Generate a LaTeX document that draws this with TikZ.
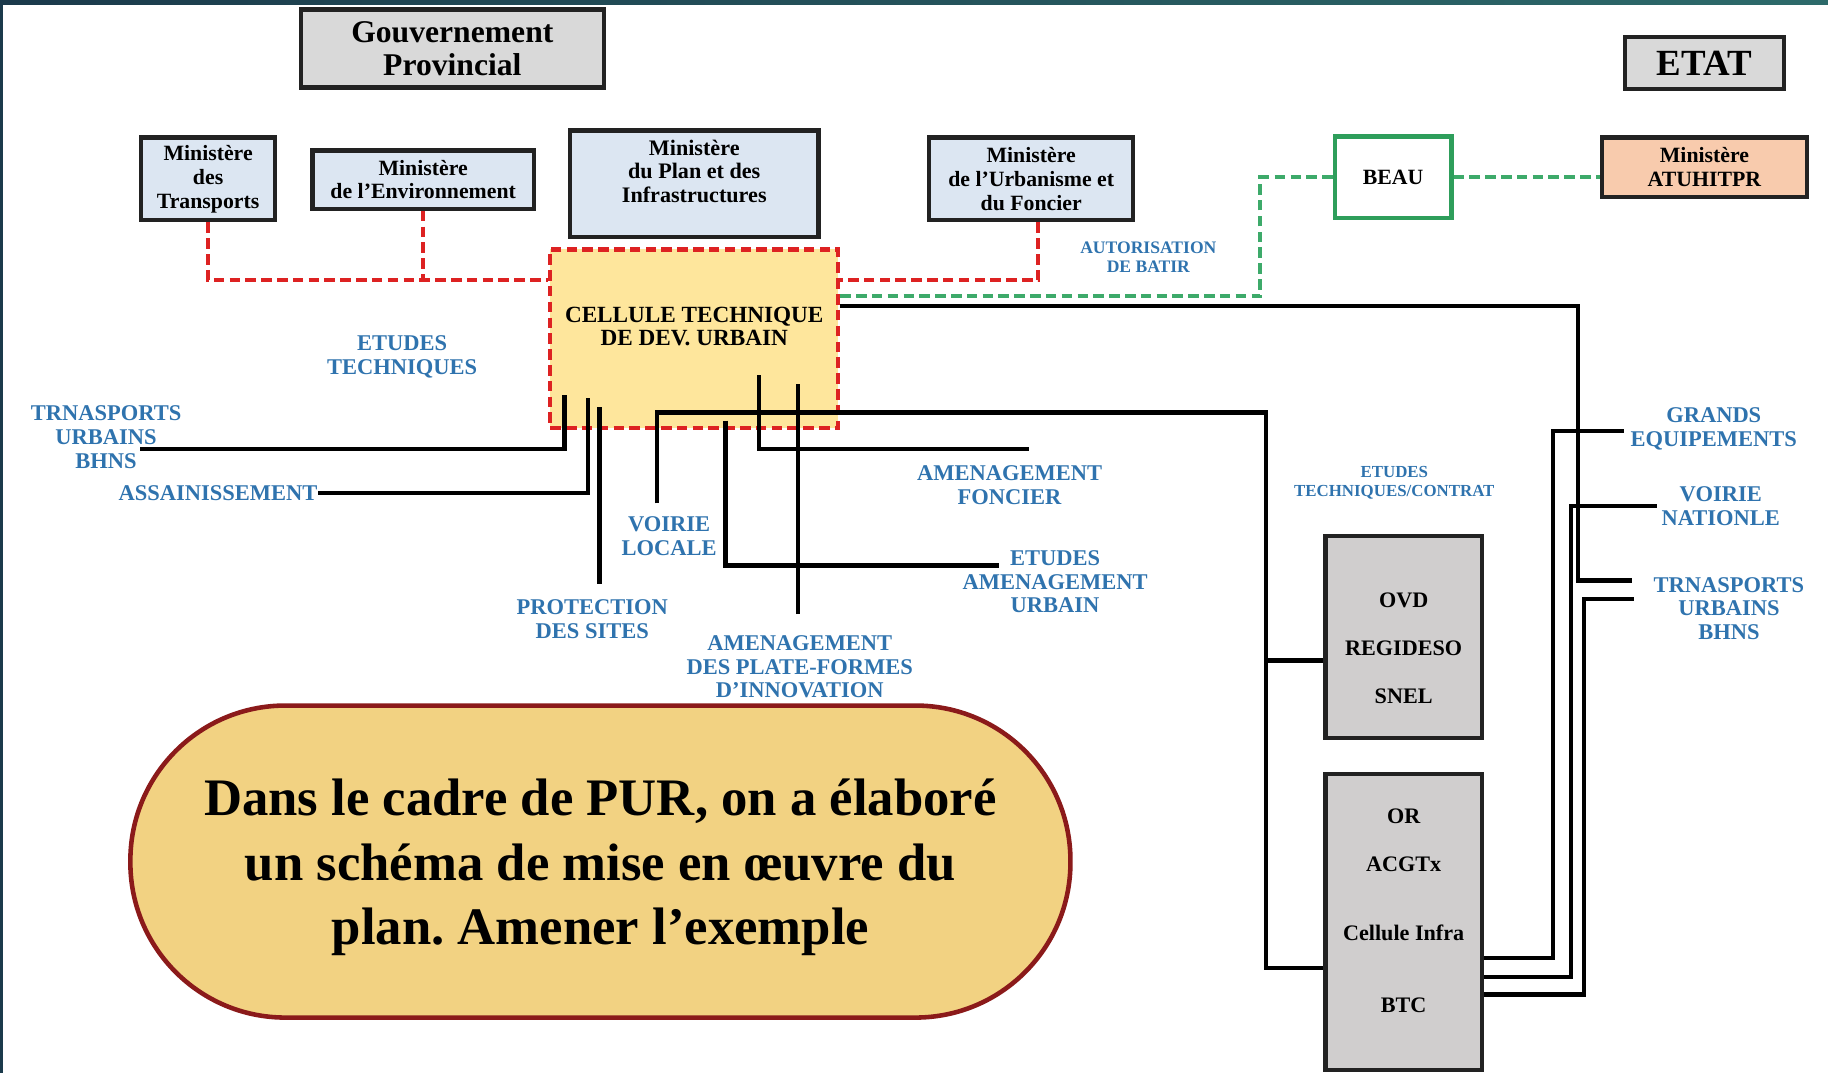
\documentclass[tikz,border=0pt]{standalone}
\usepackage{fontspec}
\setmainfont{Liberation Serif}
\usetikzlibrary{calc}
\frenchspacing
\definecolor{boxline}{HTML}{222222}
\definecolor{boxgray}{HTML}{D9D9D9}
\definecolor{miniblue}{HTML}{DCE6F2}
\definecolor{peach}{HTML}{F8CBAD}
\definecolor{cellyellow}{HTML}{FEE69C}
\definecolor{ovdgray}{HTML}{D0CECE}
\definecolor{dashred}{HTML}{DD2222}
\definecolor{dashgreen}{HTML}{3DAA6A}
\definecolor{beaugreen}{HTML}{2E9E5B}
\definecolor{labblue}{HTML}{2F73AE}
\definecolor{stadgold}{HTML}{F2D282}
\definecolor{stadred}{HTML}{8B1A1A}
\definecolor{barleft}{HTML}{1B3A4B}
\definecolor{barright}{HTML}{2D6A6A}

\begin{document}
\begin{tikzpicture}[x=0.01166cm,y=-0.01166cm,
  box/.style={draw=boxline,line width=1.2pt,align=center,inner sep=0pt,font=\bfseries\fontsize{6.2}{6.8}\selectfont},
  mini/.style={box,fill=miniblue},
  boxtext/.style={align=center,inner sep=0pt,font=\bfseries\fontsize{6.3}{6.8}\selectfont},
  lab/.style={text=labblue,align=center,inner sep=0pt,font=\bfseries\fontsize{6.4}{6.7}\selectfont},
  smalllab/.style={lab,font=\bfseries\fontsize{5}{5.4}\selectfont},
  wire/.style={line width=1.2pt},
  reddash/.style={draw=dashred,line width=1.15pt,dash pattern=on 3pt off 1.5pt},
  greendash/.style={draw=dashgreen,line width=1.15pt,dash pattern=on 3pt off 1.5pt}]

\useasboundingbox (0,0) rectangle (1568,920);
\shade[left color=barleft,right color=barright] (0,0) rectangle (1568,4);
\fill[barleft] (0,0) rectangle (2.5,920);

\node[box,fill=boxgray,minimum width=3.03cm,minimum height=0.78cm,font=\bfseries\fontsize{9}{9.4}\selectfont] (gouv) at (388,41.5) {Gouvernement\\Provincial};
\node[box,fill=boxgray,minimum width=1.586cm,minimum height=0.513cm,font=\bfseries\fontsize{10.5}{11}\selectfont] (etat) at (1462,54) {ETAT};

\node[mini,minimum width=1.341cm,minimum height=0.828cm] (mtrans) at (178.5,153.5) {Ministère\\des\\Transports};
\node[mini,minimum width=2.215cm,minimum height=0.583cm] (menv) at (363,154) {Ministère\\de l’Environnement};
\node[mini,minimum width=2.484cm,minimum height=1.061cm] (mplan) at (595.5,157.5) {};
\node[boxtext] (mplantxt) at (595.5,147) {Ministère\\du Plan et des\\Infrastructures};
\node[mini,minimum width=2.04cm,minimum height=0.828cm] (murb) at (884.5,153.5) {Ministère\\de l’Urbanisme et\\du Foncier};
\node[box,draw=beaugreen,fill=white,minimum width=1.166cm,minimum height=0.816cm] (beau) at (1195,152) {BEAU};
\node[box,fill=peach,minimum width=2.052cm,minimum height=0.595cm] (matu) at (1462,143.5) {Ministère\\ATUHITPR};

\node[box,reddash,fill=cellyellow,minimum width=2.88cm,minimum height=1.784cm] (ctdu) at (595.5,290.5) {};
\node[boxtext,font=\bfseries\fontsize{6.6}{6.8}\selectfont] (ctdutxt) at (595.5,280) {CELLULE TECHNIQUE\\DE DEV. URBAIN};

\node[box,fill=ovdgray,minimum width=1.562cm,minimum height=2.017cm] (ovd) at (1204,546.5) {};
\node[boxtext,font=\bfseries\fontsize{6.3}{13.6}\selectfont] (ovdtxt) at (1204,556) {OVD\\REGIDESO\\SNEL};
\node[box,fill=ovdgray,minimum width=1.562cm,minimum height=2.96cm] (orb) at (1204,791) {};
\node[boxtext,font=\bfseries\fontsize{6.3}{13.6}\selectfont] (orbtxt) at (1204,781) {OR\\ACGTx\\[6pt]Cellule Infra\\[6.9pt]BTC};

\node[draw=stadred,fill=stadgold,line width=1.3pt,rounded corners=1.55cm,minimum width=9.4cm,minimum height=3.12cm] (note) at (515,739) {};
\node[align=center,inner sep=0pt,font=\bfseries\fontsize{15}{18.3}\selectfont] (notetxt) at (515,744) {Dans le cadre de PUR, on a élaboré\\un schéma de mise en œuvre du\\plan. Amener l’exemple};

\node[lab] (et) at (345,306) {ETUDES\\TECHNIQUES};
\node[lab] (tul) at (91,375) {TRNASPORTS\\URBAINS\\BHNS};
\node[lab] (as) at (187,423) {ASSAINISSEMENT};
\node[lab] (vl) at (574,460) {VOIRIE\\LOCALE};
\node[lab] (ps) at (508,531) {PROTECTION\\DES SITES};
\node[lab] (apf) at (686,572) {AMENAGEMENT\\DES PLATE-FORMES\\D’INNOVATION};
\node[lab] (af) at (866,416) {AMENAGEMENT\\FONCIER};
\node[lab] (eau) at (905,499) {ETUDES\\AMENAGEMENT\\URBAIN};
\node[smalllab] (ab) at (985,221) {AUTORISATION\\DE BATIR};
\node[smalllab,font=\bfseries\fontsize{4.8}{5.4}\selectfont] (etc) at (1196,414) {ETUDES\\TECHNIQUES/CONTRAT};
\node[lab] (ge) at (1470,368) {GRANDS\\EQUIPEMENTS};
\node[lab] (vn) at (1476,434) {VOIRIE\\NATIONLE};
\node[lab] (tur) at (1483,522) {TRNASPORTS\\URBAINS\\BHNS};

\coordinate (rl) at ($(ctdu.north west)+(0,28)$);
\coordinate (rr) at ($(ctdu.north east)+(0,28)$);
\draw[reddash] (mtrans.south) |- (rl);
\draw[reddash] (menv.south) -- (menv.south |- rl);
\draw[reddash] ($(murb.south)+(6,0)$) |- (rr);

\draw[greendash] ($(ctdu.north east)+(0,42)$) -| ($(beau.west)+(-62,0)$) -- (beau.west);
\draw[greendash] (beau.east) -- (beau.east -| matu.west);

\coordinate (c1) at ($(ctdu.south west)+(14,-30)$);
\coordinate (c2) at ($(ctdu.south west)+(34,-27)$);
\coordinate (c3) at ($(ctdu.south west)+(44,-20)$);
\coordinate (c4) at ($(ctdu.south west)+(93,-15)$);
\coordinate (c5) at ($(ctdu.south west)+(152,-8)$);
\coordinate (c6) at ($(ctdu.south west)+(181,-47)$);
\coordinate (c7) at ($(ctdu.south west)+(214,-39)$);
\coordinate (trunk) at ($(c4 -| ovd.west)+(-49,0)$);
\coordinate (ovdin) at ($(ovd.west)+(0,20)$);
\coordinate (orbin) at ($(orb.west)+(0,39)$);
\coordinate (t1) at ($(tur.west)+(-18,-24)$);

\draw[wire] ($(tul.east)+(-36,10)$) -| (c1);
\draw[wire] (as.east) -| (c2);
\draw[wire] (c3 |- ps.north) ++(0,-13) -- (c3);
\draw[wire] (c4 |- vl.north) ++(0,-11) -- (c4) -- (trunk) |- (orbin);
\draw[wire] (ovdin) -- (trunk |- ovdin);
\draw[wire] (c5) |- ($(eau.west)+(32,-14)$);
\draw[wire] (c6) |- ($(af.north)+(17,-14)$);
\draw[wire] (c7 |- apf.north) ++(0,-18) -- (c7);
\draw[wire] ($(ctdu.north east)+(0,50)$) -| ($(t1)+(-46,0)$) -- (t1);
\draw[wire] ($(orb.east)+(0,31)$) -| ($(ge.west)+(-66,2)$) -- ($(ge.west)+(-5,2)$);
\draw[wire] ($(orb.east)+(0,47)$) -| ($(vn.west)+(-77,0)$) -- ($(vn.west)+(-3,0)$);
\draw[wire] ($(orb.east)+(0,62)$) -| ($(tur.west)+(-59,-8)$) -- ($(tur.west)+(-16,-8)$);
\end{tikzpicture}
\end{document}
